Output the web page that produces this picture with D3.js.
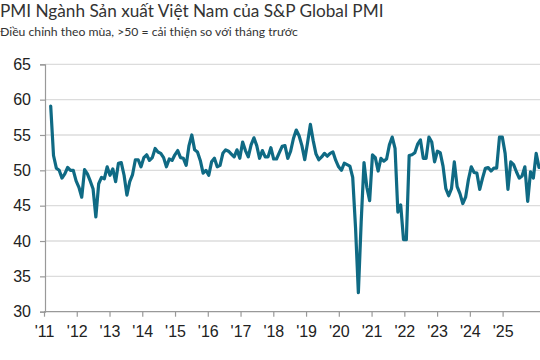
<!DOCTYPE html>
<html>
<head>
<meta charset="utf-8">
<script src="https://cdn.jsdelivr.net/npm/d3@7"></script>
<style>
  html, body { margin: 0; padding: 0; background: #fff; }
  svg { display: block; }
</style>
</head>
<body>
<svg id="chart" width="540" height="360"></svg>
<script>
// ---- Data (monthly, Mar 2011 – Aug 2025) ----
const title = "PMI Ngành Sản xuất Việt Nam của S&P Global PMI";
const subtitle = "Điều chỉnh theo mùa, >50 = cải thiện so với tháng trước";
const firstMonth = "2011-03";
const pmi = [
  59.1, 52.1, 50.3, 50.0, 48.9, 49.5, 50.4, 50.0, 50.0, 48.5,             // 2011
  47.6, 46.2, 50.1, 49.5, 48.5, 47.4, 43.4, 48.1, 49.0, 48.8, 50.5, 49.3, // 2012
  50.2, 48.4, 51.0, 51.1, 49.3, 46.5, 48.4, 49.4, 51.5, 51.5, 50.5, 51.8, // 2013
  52.2, 51.4, 51.8, 53.1, 52.6, 52.4, 51.8, 50.5, 51.6, 51.4, 52.2, 52.8, // 2014
  51.8, 51.7, 50.7, 53.5, 55.0, 52.9, 52.6, 51.4, 49.6, 50.0, 49.3, 51.2, // 2015
  51.7, 50.5, 50.7, 52.4, 52.9, 52.7, 52.3, 51.9, 52.9, 51.7, 54.0, 52.8, // 2016
  51.9, 53.6, 54.6, 53.5, 51.7, 52.8, 51.9, 51.9, 53.2, 51.6, 51.6, 52.5, // 2017
  53.4, 53.5, 51.7, 52.7, 54.5, 55.7, 54.9, 53.5, 51.5, 53.9, 56.5, 54.2, // 2018
  52.3, 51.5, 51.9, 52.4, 52.0, 52.4, 52.6, 51.4, 50.5, 50.0, 51.0, 50.8, // 2019
  50.6, 49.0, 41.9, 32.7, 42.7, 51.1, 47.6, 45.7, 52.2, 51.8, 49.9, 51.7, // 2020
  51.3, 51.6, 53.6, 54.7, 53.1, 44.1, 45.1, 40.2, 40.2, 52.1, 52.2, 52.5, // 2021
  53.7, 54.3, 51.7, 51.7, 54.7, 54.0, 51.2, 52.7, 52.5, 50.6, 47.4, 46.4, // 2022
  47.4, 51.2, 47.7, 46.7, 45.3, 46.2, 48.7, 50.5, 49.7, 49.6, 47.3, 48.9, // 2023
  50.3, 50.4, 49.9, 50.3, 50.3, 54.7, 54.7, 52.4, 47.3, 51.2, 50.8, 49.8, // 2024
  48.9, 49.2, 50.5, 45.6, 49.8, 48.9, 52.4, 50.4                          // 2025
];
const yearTicks = [2011, 2012, 2013, 2014, 2015, 2016, 2017, 2018, 2019, 2020, 2021, 2022, 2023, 2024, 2025];
const yTicks = [30, 35, 40, 45, 50, 55, 60, 65];

// ---- Layout ----
const svg = d3.select("#chart");
const axisFont = "'Liberation Sans', Arial, sans-serif";
const titleFont = "Lato, 'Noto Sans', sans-serif";

const y = d3.scaleLinear().domain([30, 65]).range([311.7, 64.3]);
const xData = d3.scaleLinear().domain([0, pmi.length - 1]).range([50.7, 539]);
const xYear = d3.scaleLinear().domain([2011, 2025]).range([44, 502.6]);

// title & subtitle
svg.append("text").attr("x", 0).attr("y", 16.5)
  .attr("font-family", titleFont).attr("font-size", 17.2).attr("fill", "#333")
  .text(title);
svg.append("text").attr("x", 0).attr("y", 35.5)
  .attr("font-family", titleFont).attr("font-size", 12.2).attr("fill", "#333")
  .text(subtitle);

// gridlines
svg.append("g").selectAll("line").data(yTicks.filter(d => d > 30)).join("line")
  .attr("x1", 45).attr("x2", 540)
  .attr("y1", d => y(d)).attr("y2", d => y(d))
  .attr("stroke", "#dcdcdc").attr("stroke-width", 1.3);

// y axis
const yAxis = d3.axisLeft(y).tickValues(yTicks).tickSize(5).tickPadding(9).tickFormat(d3.format("d"));
const gy = svg.append("g").attr("transform", "translate(45,0)").call(yAxis);
gy.select(".domain").attr("stroke", "#999").attr("stroke-width", 1.2);
gy.selectAll(".tick line").attr("stroke", "#999").attr("stroke-width", 1.2);
gy.selectAll(".tick text").attr("font-family", axisFont).attr("font-size", 16).attr("fill", "#222");

// x axis
const xAxis = d3.axisBottom(xYear).tickValues(yearTicks).tickSize(5).tickPadding(9)
  .tickFormat(d => "'" + String(d).slice(2));
const gx = svg.append("g").attr("transform", "translate(0,311.7)").call(xAxis);
gx.select(".domain").remove();
gx.append("line").attr("x1", 44).attr("x2", 540).attr("stroke", "#999").attr("stroke-width", 1.2);
gx.selectAll(".tick line").attr("stroke", "#999").attr("stroke-width", 1.2);
gx.selectAll(".tick text").attr("font-family", axisFont).attr("font-size", 16).attr("fill", "#222");

// line
const line = d3.line().x((d, i) => xData(i)).y(d => y(d)).curve(d3.curveLinear);
svg.append("path").datum(pmi)
  .attr("d", line)
  .attr("fill", "none")
  .attr("stroke", "#0f6a84")
  .attr("stroke-width", 3.2)
  .attr("stroke-linejoin", "round")
  .attr("stroke-linecap", "round");
</script>
</body>
</html>
